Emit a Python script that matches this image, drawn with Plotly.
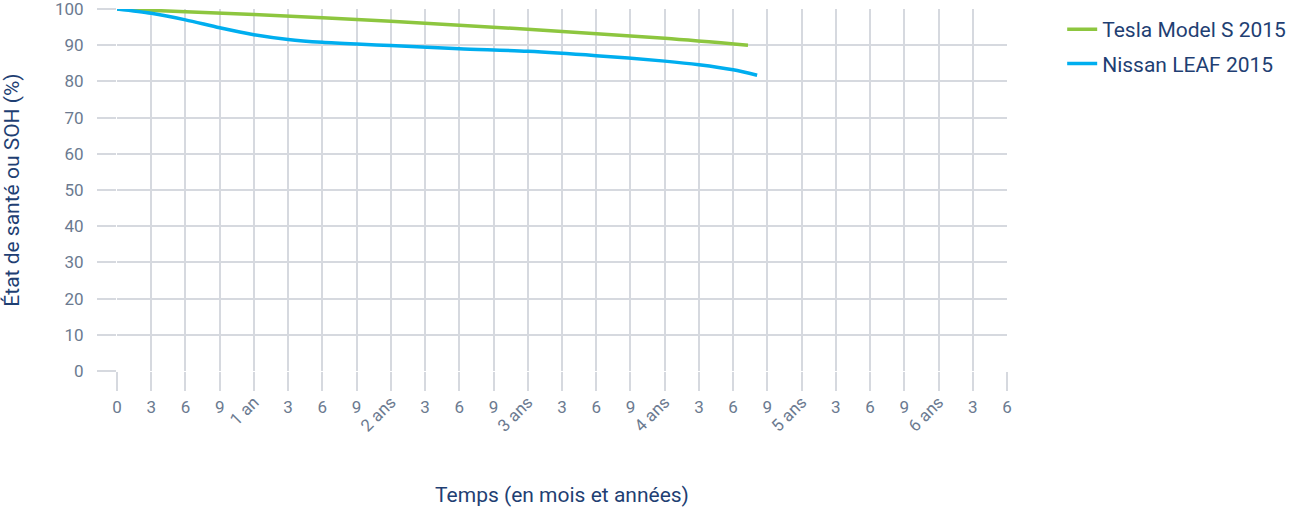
import plotly.graph_objects as go

# x in months since purchase
month_ticks = list(range(0, 79, 3))
month_labels = ['' if m % 12 == 0 and m > 0 else str(m % 12) for m in month_ticks]
year_ticks = [12, 24, 36, 48, 60, 72]
year_labels = ['1 an', '2 ans', '3 ans', '4 ans', '5 ans', '6 ans']

tesla_months = [0, 12, 24, 36, 48, 55.3]
tesla_soh = [100, 98.5, 96.6, 94.4, 91.9, 90.0]

leaf_months = [0, 3, 6, 9, 12, 15, 18, 21, 24, 30, 36, 42, 48, 51, 54, 56.1]
leaf_soh = [100, 98.8, 97.0, 94.8, 92.9, 91.6, 90.8, 90.3, 89.9, 89.0, 88.3, 87.1, 85.6, 84.6, 83.2, 81.7]

grid_col = '#d6d9df'
tick_col = '#6b7a90'
title_col = '#1f3f73'
font = 'Roboto'

fig = go.Figure()
fig.add_trace(go.Scatter(x=tesla_months, y=tesla_soh, mode='lines', name='Tesla Model S 2015',
                         line=dict(color='#8dc63f', width=3.5, shape='spline', smoothing=0.8), legendgroup='a'))
fig.add_trace(go.Scatter(x=leaf_months, y=leaf_soh, mode='lines', name='Nissan LEAF 2015',
                         line=dict(color='#00aeef', width=3.5, shape='spline', smoothing=0.8), legendgroup='b'))
# invisible trace to carry the year labels on a second x axis
fig.add_trace(go.Scatter(x=[0, 78], y=[None, None], xaxis='x2', showlegend=False, hoverinfo='skip'))

fig.update_layout(
    width=1300, height=511,
    margin=dict(l=117, r=291, t=9, b=140),
    plot_bgcolor='white', paper_bgcolor='white',
    font=dict(family=font),
    xaxis=dict(range=[0, 78], tickvals=month_ticks, ticktext=month_labels, tickangle=0,
               showgrid=True, gridcolor=grid_col, gridwidth=1.5, automargin=False,
               ticks='outside', ticklen=19, tickcolor=grid_col, tickwidth=1.5,
               ticklabelstandoff=2, tickfont=dict(size=17, color=tick_col),
               zeroline=False, showline=False,
               title=dict(text='Temps (en mois et années)', font=dict(size=21, color=title_col), standoff=70)),
    xaxis2=dict(range=[0, 78], overlaying='x', side='bottom', anchor='y', automargin=False,
                tickvals=year_ticks, ticktext=year_labels, tickangle=-45,
                showgrid=False, ticks='', ticklabelstandoff=17,
                tickfont=dict(size=17, color=tick_col), zeroline=False, showline=False),
    yaxis=dict(range=[0, 100], dtick=10, showgrid=True, gridcolor=grid_col, gridwidth=1.5,
               ticks='outside', ticklen=19, tickcolor=grid_col, tickwidth=1.5, automargin=False,
               ticklabelstandoff=10, tickfont=dict(size=17, color=tick_col), ticklabeloverflow='allow',
               zeroline=False, showline=False,
               title=dict(text='État de santé ou SOH (%)', font=dict(size=21, color=title_col), standoff=36)),
    legend=dict(x=1.062, y=1.0, xanchor='left', yanchor='top', tracegroupgap=4,
                font=dict(size=21, color=title_col), bgcolor='rgba(0,0,0,0)'),
    showlegend=True,
)

# drop the browser's default 8px body margin so the figure sits at the page corner
fig.write_html('out.html', config={'displayModeBar': False, 'responsive': False},
               post_script="document.body.style.margin='0';")
